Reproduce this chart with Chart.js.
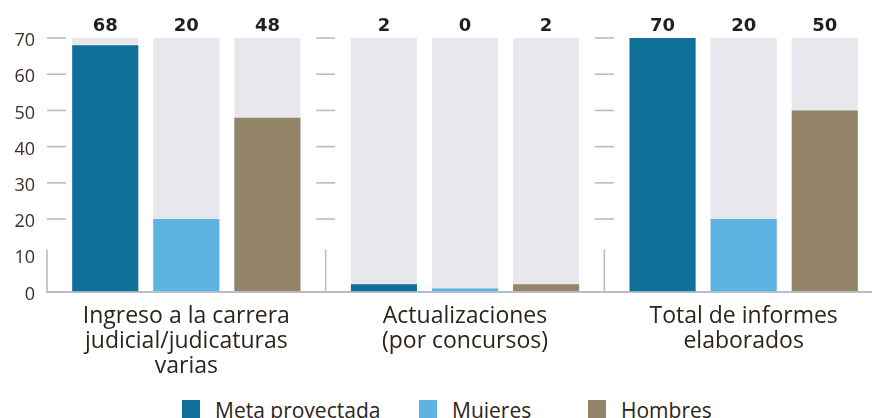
<!DOCTYPE html>
<html>
<head>
<meta charset="utf-8">
<script src="https://cdn.jsdelivr.net/npm/chart.js@4.4.0/dist/chart.umd.min.js"></script>
<style>
  html, body { margin: 0; padding: 0; background: #ffffff; overflow: hidden; width: 872px; height: 418px; }
  #wrap { position: relative; width: 883px; height: 418px; }
  #c { position: absolute; left: 0; top: 0; }
  #legend { position: absolute; left: 0; top: 400px; width: 872px; height: 30px; font-family: "Open Sans", sans-serif; font-size: 21px; color: #2e241c; }
  .li { position: absolute; top: 0; display: flex; align-items: flex-start; white-space: nowrap; line-height: 18px; }
  .lb { width: 18px; height: 18px; margin-right: 15px; display: inline-block; }
  .lt { position: relative; top: -4px; line-height: 28px; }
</style>
</head>
<body>
<div id="wrap">
  <canvas id="c" width="883" height="390"></canvas>
  <div id="legend"></div>
</div>
<script>
// ---- data ----
const categories = [
  ['Ingreso a la carrera', 'judicial/judicaturas', 'varias'],
  ['Actualizaciones', '(por concursos)'],
  ['Total de informes', 'elaborados']
];
const seriesNames = ['Meta proyectada', 'Mujeres', 'Hombres'];
const metaProyectada = [68, 2, 70];
const mujeres = [20, 0, 20];
const hombres = [48, 2, 50];
const backgroundMax = [70, 70, 70];
const yTicks = [0, 10, 20, 30, 40, 50, 60, 70];

// ---- styles ----
const colors = ['#0e7099', '#5db3e1', '#948468'];
const bgColor = '#e8e7ed';
const lineColor = '#b9bcc6';
const legendLeft = [182, 419, 588];

const seriesValues = [metaProyectada, mujeres, hombres];
const datasets = [];
seriesValues.forEach((vals, i) => {
  datasets.push({
    label: seriesNames[i], data: vals, backgroundColor: colors[i],
    stack: 's' + i, order: 0, minBarLength: 3, isData: true
  });
});
seriesValues.forEach((vals, i) => {
  datasets.push({
    label: 'bg' + i, data: backgroundMax, backgroundColor: bgColor,
    stack: 's' + i, order: 1, isData: false
  });
});

const decor = {
  id: 'decor',
  beforeDatasetsDraw(chart) {
    const { ctx, chartArea: a, scales: { x, y } } = chart;
    const n = categories.length;
    const w = (a.right - a.left) / n;
    ctx.save();
    ctx.strokeStyle = lineColor;
    ctx.lineWidth = 1.6;
    for (let i = 0; i < n; i++) {
      const b = x.getPixelForValue(i) - w / 2;
      ctx.beginPath();
      ctx.moveTo(b, y.getPixelForValue(0));
      ctx.lineTo(b, y.getPixelForValue(11.6));
      ctx.stroke();
      yTicks.filter(v => v >= 20).forEach(v => {
        const py = y.getPixelForValue(v);
        const x0 = i === 0 ? b : b - 9.5;
        ctx.beginPath();
        ctx.moveTo(x0, py);
        ctx.lineTo(x0 + 19, py);
        ctx.stroke();
      });
    }
    ctx.restore();
  },
  afterDatasetsDraw(chart) {
    const { ctx, scales: { y } } = chart;
    ctx.save();
    ctx.font = 'bold 18px "DejaVu Sans", sans-serif';
    ctx.fillStyle = '#231f20';
    ctx.textAlign = 'center';
    ctx.textBaseline = 'alphabetic';
    chart.data.datasets.forEach((ds, di) => {
      if (!ds.isData) return;
      const meta = chart.getDatasetMeta(di);
      meta.data.forEach((el, j) => {
        const top = y.getPixelForValue(backgroundMax[j]);
        ctx.fillText(String(ds.data[j]), el.x, top - 7.5);
      });
    });
    ctx.restore();
  }
};

const chart = new Chart(document.getElementById('c'), {
  type: 'bar',
  data: { labels: categories, datasets },
  options: {
    responsive: false,
    animation: false,
    layout: { padding: { top: 38, left: 0, right: 0, bottom: 0 } },
    datasets: { bar: { categoryPercentage: 0.873, barPercentage: 0.815 } },
    plugins: { legend: { display: false }, tooltip: { enabled: false } },
    scales: {
      x: {
        stacked: true,
        grid: { display: false, drawTicks: false },
        border: { display: true, color: lineColor, width: 2 },
        ticks: {
          padding: 13,
          color: '#2e241c',
          font: { family: '"Open Sans", sans-serif', size: 23, lineHeight: 1.074 },
          maxRotation: 0, autoSkip: false
        },
        afterFit: s => { s.height = 98.5; }
      },
      y: {
        stacked: false,
        min: 0, max: 70,
        afterBuildTicks: s => { s.ticks = yTicks.map(v => ({ value: v })); },
        grid: { display: false, drawTicks: false },
        border: { display: false },
        ticks: {
          padding: 12,
          labelOffset: 3,
          color: '#3b2f27',
          font: { family: '"Open Sans", sans-serif', size: 18 }
        },
        afterFit: s => { s.width = 47; }
      }
    }
  },
  plugins: [decor]
});

// HTML legend built from the chart's datasets
const legendEl = document.getElementById('legend');
chart.data.datasets.filter(d => d.isData).forEach((d, i) => {
  const item = document.createElement('div');
  item.className = 'li';
  item.style.left = legendLeft[i] + 'px';
  const box = document.createElement('span');
  box.className = 'lb';
  box.style.background = d.backgroundColor;
  const txt = document.createElement('span');
  txt.className = 'lt';
  txt.textContent = d.label;
  item.appendChild(box);
  item.appendChild(txt);
  legendEl.appendChild(item);
});
</script>
</body>
</html>
